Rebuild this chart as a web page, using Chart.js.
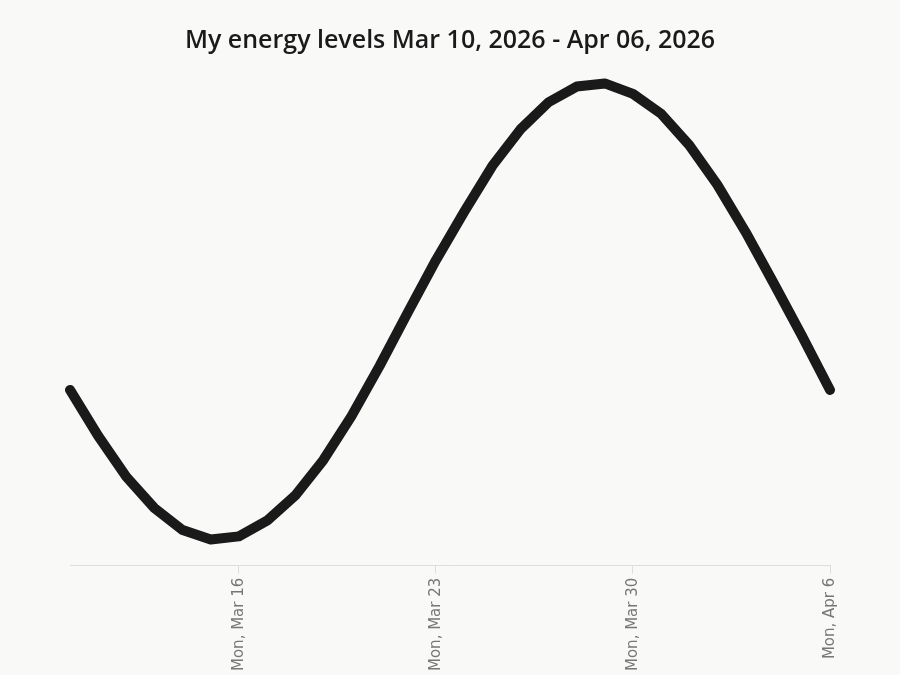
<!DOCTYPE html>
<html>
<head>
<meta charset="utf-8">
<script src="https://cdn.jsdelivr.net/npm/chart.js@4"></script>
<style>
  html, body { margin: 0; padding: 0; background: #f9f9f8; }
  #wrap { width: 900px; height: 675px; }
</style>
</head>
<body>
<div id="wrap"><canvas id="energyChart"></canvas></div>
<script>
const days = ['Tue, Mar 10', 'Wed, Mar 11', 'Thu, Mar 12', 'Fri, Mar 13', 'Sat, Mar 14', 'Sun, Mar 15',
  'Mon, Mar 16', 'Tue, Mar 17', 'Wed, Mar 18', 'Thu, Mar 19', 'Fri, Mar 20', 'Sat, Mar 21', 'Sun, Mar 22',
  'Mon, Mar 23', 'Tue, Mar 24', 'Wed, Mar 25', 'Thu, Mar 26', 'Fri, Mar 27', 'Sat, Mar 28', 'Sun, Mar 29',
  'Mon, Mar 30', 'Tue, Mar 31', 'Wed, Apr 1', 'Thu, Apr 2', 'Fri, Apr 3', 'Sat, Apr 4', 'Sun, Apr 5',
  'Mon, Apr 6'];
const energy = [168, 124, 85, 55, 34, 25, 28, 43, 67, 101, 143, 191, 242, 292, 338, 382, 417, 443,
  458, 461, 451, 432, 402, 364, 319, 270, 220, 168];

document.addEventListener('DOMContentLoaded', function() {
  const ctx = document.getElementById('energyChart');
  new Chart(ctx, {
    type: 'line',
    data: {
      labels: days,
      datasets: [{
        data: energy,
        borderColor: '#1a1a1a',
        borderWidth: 10,
        pointRadius: 0,
        tension: 0,
        borderCapStyle: 'round',
        borderJoinStyle: 'round',
        fill: false
      }]
    },
    options: {
      responsive: true,
      maintainAspectRatio: false,
      animation: false,
      layout: { padding: { left: 70, right: 70, top: 12, bottom: 0 } },
      plugins: {
        legend: { display: false },
        tooltip: { enabled: false },
        title: {
          display: true,
          text: 'My energy levels Mar 10, 2026 - Apr 06, 2026',
          color: '#1a1a1a',
          font: { family: 'Open Sans', size: 25, weight: '600' },
          padding: { top: 14, bottom: 18 }
        }
      },
      scales: {
        x: {
          offset: false,
          border: { color: '#dddddd', width: 1 },
          grid: { drawOnChartArea: false, drawTicks: true, tickLength: 8, color: '#dddddd' },
          ticks: {
            autoSkip: false,
            maxRotation: 90,
            minRotation: 90,
            padding: 4,
            color: '#777777',
            font: { family: 'DejaVu Sans', size: 15 },
            callback: function(value, index) {
              const label = days[index];
              return label.startsWith('Mon') ? label : null;
            }
          }
        },
        y: {
          display: false,
          min: 0,
          max: 470
        }
      }
    }
  });
});
</script>
</body>
</html>
